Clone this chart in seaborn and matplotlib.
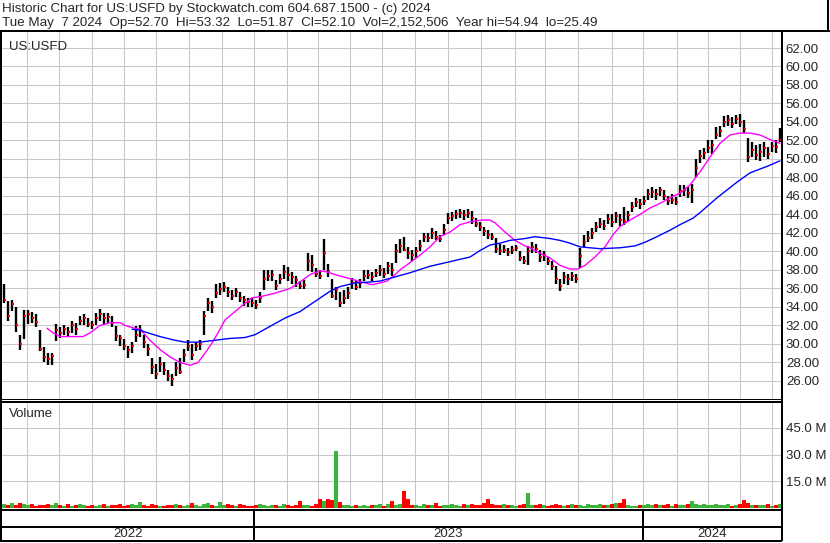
import numpy as np
import pandas as pd
import matplotlib
matplotlib.use("Agg")
import matplotlib.pyplot as plt
from matplotlib.lines import Line2D
import seaborn as sns

W, H = 830, 543

# ─── data (one bar ~ 2.6 sessions, May 2022 -> May 2024) ───────────────────

close = [
    34.8, 33.0, 34.3, 32.0, 30.0, 33.0, 33.2, 32.8, 32.4, 29.5,
    28.6, 28.4, 28.7, 31.5, 31.2, 31.6, 31.3, 32.0, 31.6, 32.5,
    32.8, 32.2, 32.0, 32.8, 33.2, 32.8, 32.9, 32.3, 30.9, 30.6,
    29.8, 29.3, 29.8, 31.0, 31.5, 30.2, 29.5, 27.5, 26.8, 27.8,
    27.2, 26.5, 26.2, 27.4, 27.0, 28.8, 29.8, 28.8, 29.8, 30.0,
    33.0, 34.4, 34.0, 35.5, 35.9, 36.2, 35.6, 35.2, 35.6, 35.0,
    34.7, 34.5, 34.4, 34.2, 35.0, 37.0, 37.3, 37.5, 36.3, 37.0,
    37.8, 37.5, 37.2, 36.9, 36.3, 36.4, 39.0, 38.5, 37.6, 37.4,
    39.8, 37.8, 35.2, 35.8, 34.4, 35.0, 35.5, 36.6, 36.2, 36.6,
    37.3, 37.5, 37.2, 37.7, 38.0, 37.6, 38.4, 38.0, 40.0, 40.6,
    40.2, 39.8, 39.6, 40.0, 40.6, 41.6, 41.5, 42.0, 41.6, 41.4,
    42.3, 43.6, 43.8, 44.0, 44.2, 43.9, 44.2, 43.6, 43.0, 42.6,
    42.2, 41.8, 41.6, 40.3, 40.0, 40.2, 39.9, 40.2, 40.4, 39.3,
    39.0, 40.0, 40.5, 40.3, 39.4, 39.6, 39.0, 38.4, 37.0, 36.3,
    37.2, 37.0, 37.4, 37.0, 39.5, 41.0, 41.5, 42.0, 42.6, 43.0,
    42.8, 43.5, 43.2, 43.8, 43.4, 43.3, 43.9, 44.8, 45.3, 45.1,
    45.5, 46.2, 46.4, 46.2, 46.6, 46.0, 45.5, 45.6, 45.4, 46.5,
    46.6, 46.3, 46.6, 49.0, 50.3, 50.6, 51.2, 51.5, 52.6, 53.0,
    54.0, 54.2, 53.8, 54.3, 54.0, 53.2, 50.2, 51.0, 50.4, 50.8,
    51.2, 50.5, 51.4, 51.3, 52.1,
]
high = [
    36.5, 34.6, 34.8, 34.0, 31.0, 33.7, 33.7, 33.5, 33.2, 31.5,
    29.7, 29.0, 29.0, 32.2, 31.8, 32.0, 31.8, 32.5, 32.3, 33.0,
    33.2, 32.8, 32.5, 33.4, 33.8, 33.4, 33.3, 33.0, 31.9, 31.0,
    30.5, 29.8, 30.2, 31.9, 32.0, 31.0, 30.0, 28.5, 27.8, 28.6,
    28.0, 27.2, 26.8, 28.0, 28.5, 29.5, 30.4, 30.0, 30.2, 30.4,
    33.6, 35.0, 34.6, 36.5, 36.6, 36.7, 36.2, 35.8, 36.0, 35.6,
    35.2, 35.0, 35.0, 34.7, 35.6, 38.0, 38.0, 38.0, 36.9, 37.6,
    38.5, 38.3, 37.8, 37.3, 36.8, 36.9, 39.8, 39.6, 38.2, 38.0,
    41.3, 38.6, 37.0, 36.2, 35.6, 35.8, 36.2, 37.1, 36.8, 37.0,
    38.0, 38.0, 37.8, 38.1, 38.5, 38.2, 38.9, 38.8, 40.8, 41.3,
    41.6, 40.5, 40.2, 40.5, 41.2, 42.0, 42.0, 42.5, 42.2, 41.8,
    43.0, 44.2, 44.3, 44.5, 44.6, 44.5, 44.6, 44.4, 43.6, 43.2,
    42.7, 42.3, 42.0, 41.5, 40.8, 40.7, 40.4, 40.6, 40.7, 40.1,
    39.5, 40.6, 41.0, 40.8, 40.2, 40.0, 39.4, 39.0, 38.4, 37.0,
    37.8, 37.6, 37.8, 37.6, 40.4, 41.8, 42.2, 42.5, 43.2, 43.6,
    43.4, 44.0, 44.0, 44.3, 44.0, 44.8, 44.4, 45.4, 45.8, 45.7,
    46.0, 46.8, 47.0, 46.8, 47.0, 46.7, 46.0, 46.2, 45.9, 47.2,
    47.2, 47.0, 47.3, 50.0, 51.0, 51.2, 52.0, 52.0, 53.5, 53.6,
    54.6, 54.8, 54.5, 54.8, 54.9, 54.2, 52.3, 51.8, 51.5, 51.6,
    51.8, 51.3, 51.8, 52.0, 53.3,
]
low = [
    34.4, 32.5, 33.6, 31.3, 29.4, 30.5, 32.2, 32.3, 31.8, 29.2,
    28.1, 27.7, 27.7, 30.3, 30.6, 31.0, 30.8, 31.2, 31.0, 32.0,
    32.1, 31.8, 31.6, 32.0, 32.5, 32.1, 32.3, 31.8, 30.3, 29.8,
    29.4, 28.5, 29.0, 30.2, 30.8, 29.6, 28.7, 26.8, 26.2, 27.0,
    26.6, 26.0, 25.5, 26.5, 26.8, 28.0, 29.2, 28.3, 29.2, 29.3,
    31.0, 33.6, 33.4, 35.0, 35.3, 35.6, 35.1, 34.8, 35.1, 34.5,
    34.1, 34.0, 34.0, 33.8, 34.4, 35.8, 36.8, 36.8, 35.8, 36.5,
    37.0, 36.8, 36.5, 36.2, 35.9, 35.9, 37.9, 37.8, 37.2, 37.0,
    38.0, 37.2, 35.0, 34.8, 34.0, 34.3, 34.9, 35.9, 35.8, 36.0,
    36.8, 37.0, 36.8, 37.2, 37.4, 37.1, 37.6, 37.3, 38.8, 39.8,
    40.0, 39.2, 39.0, 39.3, 40.0, 41.0, 41.0, 41.4, 41.2, 41.0,
    41.8, 43.0, 43.3, 43.5, 43.6, 43.4, 43.6, 43.0, 42.6, 42.2,
    41.7, 41.4, 41.2, 39.8, 39.6, 39.8, 39.5, 39.7, 40.0, 39.0,
    38.6, 38.5, 39.8, 39.8, 38.9, 39.0, 38.5, 38.0, 36.5, 35.7,
    36.5, 36.4, 36.8, 36.6, 38.2, 40.5, 41.0, 41.3, 42.1, 42.5,
    42.3, 43.0, 42.7, 43.1, 42.8, 42.9, 43.2, 44.3, 44.8, 44.6,
    45.0, 45.6, 45.8, 45.6, 46.0, 45.6, 45.0, 45.1, 45.0, 45.9,
    46.0, 45.8, 45.2, 48.0, 49.6, 50.0, 50.6, 50.5, 52.2, 52.4,
    53.5, 53.6, 53.4, 53.8, 53.5, 52.8, 49.7, 50.2, 49.9, 49.8,
    50.2, 50.0, 50.8, 50.6, 51.8,
]
# volume in millions of shares
volume = [
    2.4, 1.8, 2.6, 1.5, 2.9, 2.2, 1.6, 2.0, 1.4, 1.9,
    1.7, 2.1, 1.5, 2.8, 1.6, 1.3, 2.0, 1.2, 1.8, 2.4,
    1.5, 1.3, 1.9, 1.1, 1.6, 2.2, 1.4, 1.7, 1.9, 2.3,
    1.2, 1.6, 2.0, 1.8, 3.4, 1.5, 1.3, 2.1, 1.7, 1.4,
    1.2, 1.5, 1.9, 2.2, 1.6, 1.3, 1.8, 2.6, 1.5, 1.4,
    2.0, 2.7, 1.6, 1.4, 3.5, 1.8, 2.2, 1.5, 1.3, 2.0,
    1.7, 1.4, 1.2, 1.6, 2.5, 1.9, 1.3, 1.8, 1.5, 1.4,
    2.0, 1.6, 1.2, 1.9, 4.0, 1.8, 1.5, 1.4, 2.2, 5.0,
    4.2, 5.0, 4.5, 32.0, 3.2, 1.8, 1.6, 1.3, 1.5, 1.2,
    1.7, 1.4, 1.9, 1.6, 2.1, 1.3, 2.4, 4.0, 1.8, 2.2,
    9.5, 5.0, 1.6, 1.9, 1.4, 2.2, 1.7, 1.5, 2.6, 1.3,
    1.5, 1.8, 2.4, 1.6, 1.4, 2.0, 1.7, 2.3, 1.5, 1.9,
    2.6, 5.0, 2.1, 1.6, 1.8, 2.4, 1.5, 1.9, 1.4, 1.7,
    2.2, 8.5, 1.6, 1.8, 2.0, 1.5, 1.4, 1.9, 2.3, 1.6,
    1.3, 1.7, 2.2, 1.5, 1.9, 1.4, 2.0, 1.6, 1.8, 2.3,
    1.5, 1.7, 2.1, 2.6, 3.0, 5.0, 1.8, 1.4, 1.2, 1.6,
    1.8, 2.2, 1.5, 2.4, 1.9, 1.6, 2.0, 1.4, 2.1, 1.7,
    1.5, 2.3, 4.0, 2.0, 1.6, 2.2, 1.8, 1.5, 2.4, 1.9,
    1.6, 2.0, 1.4, 1.8, 2.2, 4.5, 2.6, 1.5, 1.9, 1.7,
    1.6, 2.1, 1.4, 1.8, 2.3,
]

# moving averages as drawn on the chart (bar position, value)
ma_fast_bar = [
    10.75, 12.25, 14, 19.75, 21.5, 24, 26.5, 29, 30.25, 32.75,
    34, 36.5, 39, 41.5, 44, 46.5, 48.5, 50.25, 52, 53.5,
    55.25, 57.75, 60.25, 62, 64, 67.75, 71.5, 74, 76.5, 79,
    80.75, 82.75, 85.25, 87.75, 90.25, 92, 94, 95.75, 97.25, 99,
    101.5, 104, 106.5, 109, 111.5, 114, 116.5, 119.5, 121.5, 122.75,
    125.25, 127.75, 130.25, 131.5, 134, 136.5, 139, 141.5, 143.5, 145.25,
    147.75, 150.25, 152.25, 154, 156.5, 159, 161.5, 164, 166.5, 169,
    171.5, 174, 176.5, 179, 181.5, 184, 186.5, 189, 191.5, 194,
]
ma_fast = [
    31.7, 31.2, 30.8, 30.8, 31.2, 32.0, 32.3, 32.3, 32.0, 31.7,
    31.6, 30.4, 29.4, 28.6, 28.0, 27.7, 28.0, 29.0, 30.1, 31.2,
    32.6, 33.5, 34.4, 35.0, 35.1, 35.5, 36.0, 36.7, 37.5, 37.9,
    37.8, 37.5, 37.2, 36.9, 36.6, 36.4, 36.6, 36.8, 37.3, 38.0,
    38.8, 39.6, 40.5, 41.6, 42.1, 42.9, 43.2, 43.4, 43.4, 43.1,
    42.1, 41.2, 40.6, 40.4, 39.8, 39.3, 38.5, 38.1, 38.1, 38.5,
    39.4, 40.5, 41.8, 42.7, 43.4, 44.0, 44.7, 45.2, 45.8, 46.3,
    47.2, 48.6, 50.2, 51.7, 52.6, 52.8, 52.8, 52.6, 52.1, 51.7,
]
ma_slow_bar = [
    32, 34, 35.25, 39, 42.75, 45.25, 49, 52.75, 56.5, 60.25,
    62.75, 65.25, 70.25, 74, 77.75, 81.5, 84, 87.75, 91.5, 94,
    96.5, 101.5, 106.5, 111.5, 116.5, 119, 121.5, 124, 126.5, 130.25,
    132.75, 136.5, 139, 141.5, 144, 149, 154, 157.75, 160.25, 162.75,
    166.5, 169, 172.25, 174, 178.25, 183.25, 186.5, 190.75, 194,
]
ma_slow = [
    31.6, 31.5, 31.3, 30.8, 30.4, 30.2, 30.2, 30.4, 30.6, 30.7,
    31.0, 31.6, 32.8, 33.5, 34.6, 35.7, 36.2, 36.6, 36.7, 36.8,
    37.1, 37.7, 38.4, 38.9, 39.4, 40.1, 40.7, 40.9, 41.2, 41.4,
    41.6, 41.4, 41.2, 40.9, 40.5, 40.3, 40.4, 40.6, 41.0, 41.5,
    42.3, 42.9, 43.6, 44.2, 45.8, 47.5, 48.5, 49.2, 49.8,
]

# month starts and year breaks, in bar units
month_bars = [
    5.75, 13.75, 22, 30, 38, 46.25, 54.5, 62.5, 70.75, 78.5, 86.5, 94.5,
    102.75, 111, 119.25, 127.75, 135.25, 143.5, 152, 159.75, 168.25, 176,
    184, 192,
]
year_breaks = [62.5, 159.75]
year_labels = ["2022", "2023", "2024"]

price_ticks = list(range(26, 63, 2))
vol_ticks = [15, 30, 45]

header_1 = "Historic Chart for US:USFD by Stockwatch.com 604.687.1500 - (c) 2024"
header_2 = ("Tue May  7 2024  Op=52.70  Hi=53.32  Lo=51.87  Cl=52.10  "
            "Vol=2,152,506  Year hi=54.94  lo=25.49")
symbol = "US:USFD"

GRID = "#c8c8c8"
X_LIM = (-0.5, 194.25)
FS = 9.5


# ─── helpers ────────────────────────────────────────────────────────────────

def rect(x0, y0, x1, y1):
    return [x0 / W, 1 - y1 / H, (x1 - x0) / W, (y1 - y0) / H]


def rule(fig, x0, y0, x1, y1, px=2):
    fig.add_artist(Line2D([x0 / W, x1 / W], [1 - y0 / H, 1 - y1 / H],
                          color="black", lw=px * 0.72,
                          transform=fig.transFigure, solid_capstyle="butt"))


def style_panel(ax):
    for s in ax.spines.values():
        s.set_visible(False)
    ax.set_xlim(*X_LIM)
    ax.set_xticks(month_bars)
    ax.yaxis.tick_right()
    ax.tick_params(axis="x", length=0, labelbottom=False)
    ax.tick_params(axis="y", length=0, pad=3.5, labelsize=FS)
    ax.grid(True, color=GRID, lw=0.75)
    ax.set_axisbelow(True)
    ax.set_xlabel("")
    ax.set_ylabel("")


# ─── main ───────────────────────────────────────────────────────────────────

sns.set_style("white")
plt.rcParams["font.family"] = ["Liberation Sans", "DejaVu Sans"]

fig = plt.figure(figsize=(W / 100, H / 100), dpi=100)
bars = np.arange(len(close))

# price panel
ax = fig.add_axes(rect(2, 32, 781, 399))
ax.vlines(bars, low, high, color="black", lw=1.7, zorder=2)
ax.scatter(bars + 0.35, close, marker="s", s=4.5, color="red", lw=0, zorder=3)
sns.lineplot(x=ma_fast_bar, y=ma_fast, color="#ff00ff", lw=1, ax=ax, zorder=4)
sns.lineplot(x=ma_slow_bar, y=ma_slow, color="#0000ff", lw=1, ax=ax, zorder=4)
ax.set_ylim(24.05, 63.73)
ax.set_yticks(price_ticks)
ax.set_yticklabels([f"{v:.2f}" for v in price_ticks])
style_panel(ax)
ax.text(0.009, 0.975, symbol, transform=ax.transAxes, ha="left", va="top", fontsize=FS)

# volume panel
axv = fig.add_axes(rect(2, 402, 781, 509))
move = np.where(np.diff(close, prepend=close[0]) >= 0, "up", "down")
vdf = pd.DataFrame({"bar": bars, "vol": volume, "move": move})
sns.barplot(data=vdf, x="bar", y="vol", hue="move",
            palette={"up": "#3cb43c", "down": "#ff0000"},
            native_scale=True, width=0.8, dodge=False, legend=False,
            errorbar=None, saturation=1, linewidth=0, ax=axv)
axv.set_ylim(-0.56, 59.6)
axv.set_yticks(vol_ticks)
axv.set_yticklabels([f"{v:.1f} M" for v in vol_ticks])
style_panel(axv)
axv.text(0.009, 0.94, "Volume", transform=axv.transAxes, ha="left", va="top", fontsize=FS)

# date rows
axd = fig.add_axes(rect(2, 509, 781, 541))
axd.set_xlim(*X_LIM)
axd.set_ylim(0, 1)
axd.axis("off")
for b in year_breaks:
    axd.axvline(b, color="black", lw=1.44)
edges = [X_LIM[0]] + year_breaks + [X_LIM[1]]
for lab, a, b in zip(year_labels, edges[:-1], edges[1:]):
    axd.text((a + b) / 2, 0.22, lab, ha="center", va="center", fontsize=FS)

# header
fig.text(2 / W, 1 - 9 / H, header_1, ha="left", va="center", fontsize=9.6)
fig.text(2 / W, 1 - 23 / H, header_2, ha="left", va="center", fontsize=9.6)

# frame rules
rule(fig, 0, 31, W, 31)
rule(fig, 828, 0, 828, 31)
rule(fig, 1, 31, 1, 541)
rule(fig, 782, 31, 782, 541)
rule(fig, 0, 399, 782, 399, px=1)
rule(fig, 0, 402, 782, 402)
rule(fig, 0, 509.5, 782, 509.5)
rule(fig, 0, 527, 782, 527)
rule(fig, 0, 541, 782, 541)

fig.savefig("out.png", dpi=100)
